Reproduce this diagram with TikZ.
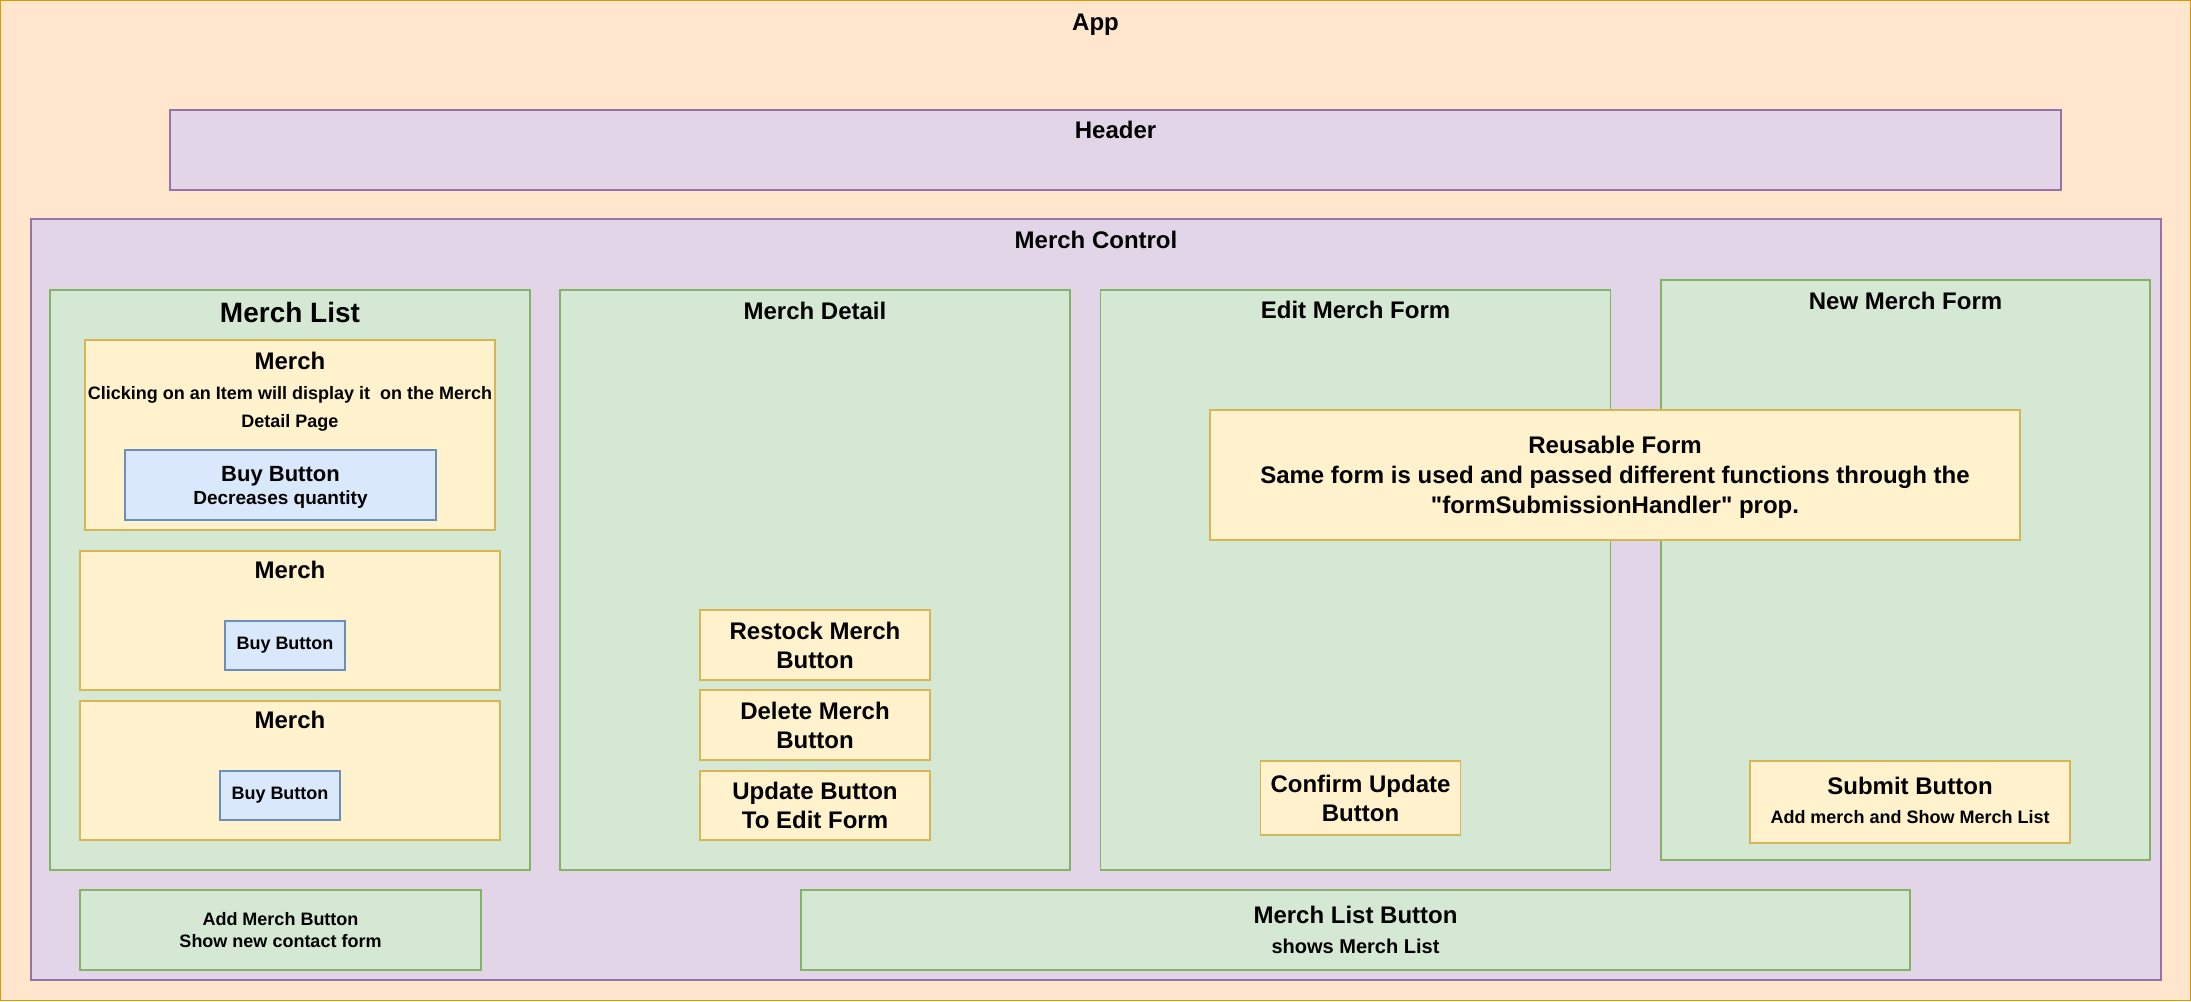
\documentclass[tikz,border=0pt]{standalone}
\usepackage{fontspec}
\setmainfont{Liberation Sans}[Ligatures=TeXOff]
\definecolor{orF}{HTML}{FFE6CC}\definecolor{orS}{HTML}{D79B00}
\definecolor{puF}{HTML}{E1D5E7}\definecolor{puS}{HTML}{9673A6}
\definecolor{grF}{HTML}{D5E8D4}\definecolor{grS}{HTML}{82B366}
\definecolor{yeF}{HTML}{FFF2CC}\definecolor{yeS}{HTML}{D6B656}
\definecolor{blF}{HTML}{DAE8FC}\definecolor{blS}{HTML}{6C8EBF}
\newcommand\fsz[2]{\fontsize{#1}{#2}\selectfont\bfseries}
\tikzset{
  box/.style={draw, line width=1.3pt, anchor=north west, inner sep=0pt, outer sep=0pt, align=center, text=black},
  orbox/.style={box, draw=orS, fill=orF},
  pubox/.style={box, draw=puS, fill=puF},
  grbox/.style={box, draw=grS, fill=grF},
  yebox/.style={box, draw=yeS, fill=yeF},
  blbox/.style={box, draw=blS, fill=blF},
  txt/.style={inner sep=0pt, anchor=base, text=black},
}
\begin{document}
\begin{tikzpicture}[x=1pt, y=-1pt]
\useasboundingbox (0,0) rectangle (2191,1001);
% App
\node[orbox, minimum width=2189.6pt, minimum height=999.6pt] (app) at (0.7,0.7) {};
\node[txt, font=\fsz{24}{29}] (apptitle) at (1095.5,30) {App};
% Header
\node[pubox, minimum width=1891pt, minimum height=80pt] (header) at (170,110) {};
\node[txt, font=\fsz{24}{29}] (headertitle) at (1115.5,138.6) {Header};
% Merch Control
\node[pubox, minimum width=2130pt, minimum height=761pt] (control) at (31,219) {};
\node[txt, font=\fsz{24}{29}] (controltitle) at (1096,248.6) {Merch Control};
% Merch List
\node[grbox, minimum width=480pt, minimum height=580pt] (mlist) at (50,290) {};
\node[txt, font=\fsz{28}{34}] (mlisttitle) at (290,322) {Merch List};
\node[yebox, minimum width=410pt, minimum height=190pt] (m1) at (85,340) {};
\node[txt, font=\fsz{24}{29}] (m1title) at (290,369.6) {Merch};
\node[txt, font=\fsz{18}{22}] (m1l1) at (290,399) {Clicking on an Item will display it\ \ on the Merch};
\node[txt, font=\fsz{18}{22}] (m1l2) at (290,427) {Detail Page};
\node[blbox, minimum width=311pt, minimum height=70pt] (b1) at (125,450) {};
\node[txt, font=\fsz{22}{26}] (b1l1) at (280.5,481) {Buy Button};
\node[txt, font=\fsz{19}{23}] (b1l2) at (280.5,504) {Decreases quantity};
\node[yebox, minimum width=420pt, minimum height=139pt] (m2) at (80,551) {};
\node[txt, font=\fsz{24}{29}] (m2title) at (290,578.5) {Merch};
\node[blbox, minimum width=120pt, minimum height=49pt, font=\fsz{18}{22}] (b2) at (225,621) {Buy Button};
\node[yebox, minimum width=420pt, minimum height=139pt] (m3) at (80,701) {};
\node[txt, font=\fsz{24}{29}] (m3title) at (290,728.5) {Merch};
\node[blbox, minimum width=120pt, minimum height=49pt, font=\fsz{18}{22}] (b3) at (220,771) {Buy Button};
% Merch Detail
\node[grbox, minimum width=510pt, minimum height=580pt] (detail) at (560,290) {};
\node[txt, font=\fsz{24}{29}] (detailtitle) at (815,319.4) {Merch Detail};
\node[yebox, minimum width=230pt, minimum height=70pt, font=\fsz{24}{29}] (restock) at (700,610) {Restock Merch\\Button};
\node[yebox, minimum width=230pt, minimum height=70pt, font=\fsz{24}{29}] (delete) at (700,690) {Delete Merch\\Button};
\node[yebox, minimum width=230pt, minimum height=69pt, font=\fsz{24}{29}] (update) at (700,771) {Update Button\\To Edit Form};
% Edit Merch Form
\node[grbox, minimum width=510pt, minimum height=580pt] (edit) at (1100.5,290) {};
\node[txt, font=\fsz{24}{29}] (edittitle) at (1355.5,318.6) {Edit Merch Form};
\node[yebox, minimum width=200pt, minimum height=74pt, font=\fsz{24}{29}] (confirm) at (1260.5,761) {Confirm Update\\Button};
% New Merch Form
\node[grbox, minimum width=489pt, minimum height=580pt] (new) at (1661,280) {};
\node[txt, font=\fsz{24}{29}] (newtitle) at (1905.5,309) {New Merch Form};
\node[yebox, minimum width=320pt, minimum height=82pt] (submit) at (1750,761) {};
\node[txt, font=\fsz{24}{29}] (submitl1) at (1910,794.3) {Submit Button};
\node[txt, font=\fsz{18}{22}] (submitl2) at (1910,823.8) {Add merch and Show Merch List};
% Reusable form
\node[yebox, minimum width=810pt, minimum height=130pt, font=\fsz{24}{30}, text depth=0pt] (reuse) at (1210,410) {Reusable Form\\Same form is used and passed different functions through the\\"formSubmissionHandler" prop.};
% Bottom buttons
\node[grbox, minimum width=401pt, minimum height=80pt, font=\fsz{18}{22}] (addbtn) at (80,890) {Add Merch Button\\Show new contact form};
\node[grbox, minimum width=1109pt, minimum height=80pt] (listbtn) at (801,890) {};
\node[txt, font=\fsz{24}{29}] (listbtnl1) at (1355.5,923.3) {Merch List Button};
\node[txt, font=\fsz{20}{24}] (listbtnl2) at (1355.5,953) {shows Merch List};
\end{tikzpicture}
\end{document}
